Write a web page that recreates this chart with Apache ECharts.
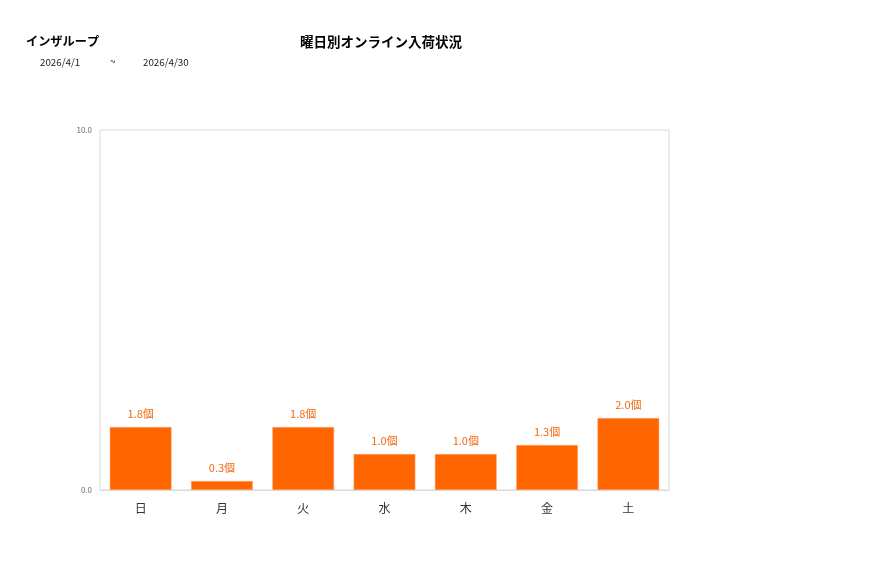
<!DOCTYPE html>
<html><head><meta charset="utf-8">
<script src="https://cdn.jsdelivr.net/npm/echarts@6/dist/echarts.min.js"></script>
<style>html,body{margin:0;padding:0;background:#fff}#c{width:877px;height:578px}</style>
</head><body><div id="c"></div>
<script>
const categories = ['日','月','火','水','木','金','土'];
const values = [1.75, 0.25, 1.75, 1.0, 1.0, 1.25, 2.0];
const yTicks = [0, 10];
const titleText = 'インザループ';
const chartTitle = '曜日別オンライン入荷状況';
const dateFrom = '2026/4/1';
const dateTo = '2026/4/30';

const font = '"Noto Sans CJK JP", "Noto Sans", sans-serif';
const chart = echarts.init(document.getElementById('c'));
chart.setOption({
  animation: false,
  textStyle: { fontFamily: font },
  title: [
    { text: titleText, left: 26, top: 35, padding: 0, textStyle: { fontSize: 12.2, fontWeight: 'bold', color: '#000', fontFamily: font } },
    { text: chartTitle, left: 381, top: 35, padding: 0, textAlign: 'center', textStyle: { fontSize: 13.5, fontWeight: 'bold', color: '#000', fontFamily: font } },
    { text: dateFrom, left: 40, top: 57, padding: 0, textStyle: { fontSize: 9.8, fontWeight: 'normal', color: '#222', fontFamily: font } },
    { text: '~', left: 110, top: 56, padding: 0, textStyle: { fontSize: 9.8, fontWeight: 'normal', color: '#222', fontFamily: font } },
    { text: dateTo, left: 143, top: 57, padding: 0, textStyle: { fontSize: 9.8, fontWeight: 'normal', color: '#222', fontFamily: font } }
  ],
  grid: { left: 100, right: 208, top: 130, bottom: 88, show: true, borderColor: '#d9d9d9', borderWidth: 1, containLabel: false },
  xAxis: {
    type: 'category', data: categories,
    axisLine: { show: true, lineStyle: { color: '#d9d9d9' } },
    axisTick: { show: false },
    axisLabel: { color: '#333', fontSize: 12, margin: 12, fontFamily: font }
  },
  yAxis: {
    type: 'value', min: yTicks[0], max: yTicks[1], interval: yTicks[1] - yTicks[0],
    axisLine: { show: false }, axisTick: { show: false }, splitLine: { show: false },
    axisLabel: { color: '#666', fontSize: 8, margin: 8, formatter: v => v.toFixed(1), fontFamily: font }
  },
  series: [{
    type: 'bar', data: values, barCategoryGap: '24%',
    itemStyle: { color: '#FF6600', borderColor: '#ffb080', borderWidth: 0.5 },
    label: { show: true, position: 'top', distance: 8, color: '#EE6A10', fontSize: 11,
      formatter: p => p.value.toFixed(1) + '個', fontFamily: font }
  }]
});
</script></body></html>
